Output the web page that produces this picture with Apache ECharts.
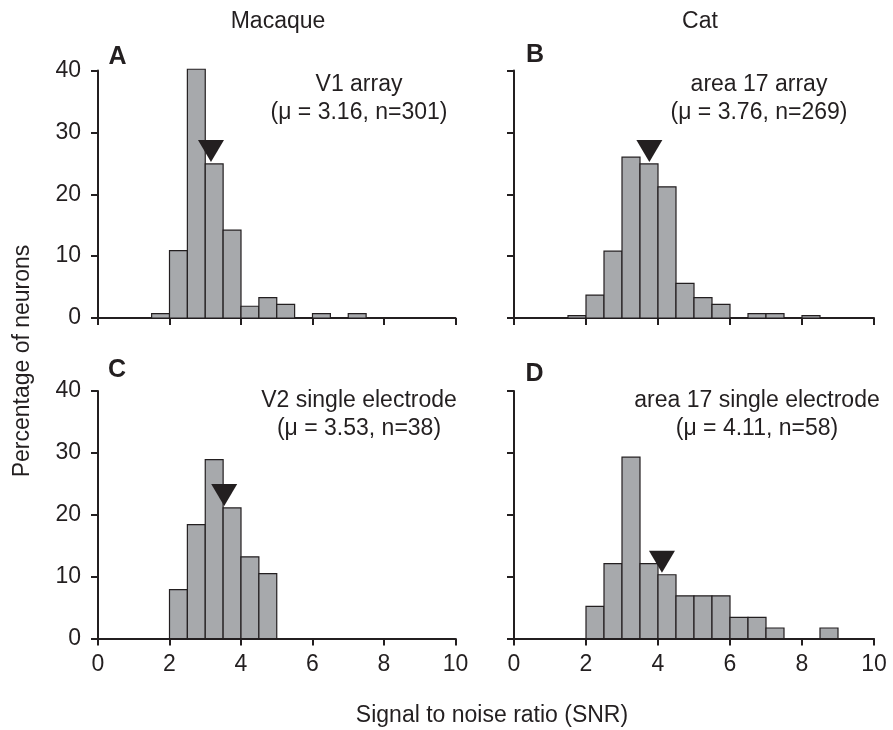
<!DOCTYPE html>
<html>
<head>
<meta charset="utf-8">
<script src="https://cdn.jsdelivr.net/npm/echarts@6/dist/echarts.min.js"></script>
<style>
  html, body { margin: 0; padding: 0; background: #ffffff; }
  #chart { width: 893px; height: 730px; }
</style>
</head>
<body>
<div id="chart"></div>
<script>
// Histogram bins: lower edges of 0.5-wide SNR bins
const binLow = [1.5, 2.0, 2.5, 3.0, 3.5, 4.0, 4.5, 5.0, 5.5, 6.0, 6.5, 7.0, 7.5, 8.0, 8.5];
const binWidth = 0.5;

// Percentage of neurons in each bin
const pctV1Array      = [0.7, 10.9, 40.2, 24.9, 14.2, 1.9, 3.3, 2.2, 0, 0.7, 0, 0.7, 0, 0, 0];
const pctA17Array     = [0.4, 3.7, 10.8, 26.0, 24.9, 21.2, 5.6, 3.3, 2.2, 0, 0.7, 0.7, 0, 0.4, 0];
const pctV2Single     = [0, 7.9, 18.4, 28.9, 21.1, 13.2, 10.5, 0, 0, 0, 0, 0, 0, 0, 0];
const pctA17Single    = [0, 5.2, 12.1, 29.3, 12.1, 10.3, 6.9, 6.9, 6.9, 3.4, 3.4, 1.7, 0, 0, 1.7];

// Panel metadata
const panelLetters = ['A', 'B', 'C', 'D'];
const panelNames   = ['V1 array', 'area 17 array', 'V2 single electrode', 'area 17 single electrode'];
const meanSNR      = [3.16, 3.76, 3.53, 4.11];
const cellCounts   = [301, 269, 38, 58];
const speciesNames = ['Macaque', 'Cat'];

// Axis ticks
const xTicks = { min: 0, max: 10, interval: 2 };
const yTicks = { min: 0, max: 40, interval: 10 };

const ink = '#231f20';
const barFill = '#a7a9ac';
const font = '"Liberation Sans", Arial, Helvetica, sans-serif';
const fs = 23;

const panelPct = [pctV1Array, pctA17Array, pctV2Single, pctA17Single];

const grids = [
  { left: 98,  top: 70.5, width: 357.5, height: 247.5 },
  { left: 514, top: 70.5, width: 360,   height: 247.5 },
  { left: 98,  top: 391,  width: 357.5, height: 247.5 },
  { left: 514, top: 391,  width: 360,   height: 247.5 }
];

function xAxisFor(i) {
  return {
    type: 'value', gridIndex: i,
    min: xTicks.min, max: xTicks.max, interval: xTicks.interval,
    axisLine: { show: true, onZero: false, lineStyle: { color: ink, width: 2 } },
    axisTick: { show: true, inside: false, length: 7, lineStyle: { color: ink, width: 2 } },
    axisLabel: { show: i >= 2, color: ink, fontSize: fs, fontFamily: font, margin: 15 },
    splitLine: { show: false }
  };
}
function yAxisFor(i) {
  return {
    type: 'value', gridIndex: i,
    min: yTicks.min, max: yTicks.max, interval: yTicks.interval,
    axisLine: { show: true, lineStyle: { color: ink, width: 2 } },
    axisTick: { show: true, inside: false, length: 7, lineStyle: { color: ink, width: 2 } },
    axisLabel: { show: i % 2 === 0, color: ink, fontSize: fs, fontFamily: font, margin: 17 },
    splitLine: { show: false }
  };
}

function barSeries(i) {
  const data = binLow.map((lo, k) => [lo, lo + binWidth, panelPct[i][k]]);
  return {
    type: 'custom', xAxisIndex: i, yAxisIndex: i, z: 3,
    encode: { x: [0, 1], y: 2 },
    data: data,
    renderItem: function (params, api) {
      const h = api.value(2);
      if (!h) return null;
      const p0 = api.coord([api.value(0), 0]);
      const p1 = api.coord([api.value(1), h]);
      return {
        type: 'rect',
        shape: { x: p0[0], y: p1[1], width: p1[0] - p0[0], height: p0[1] - p1[1] },
        style: { fill: barFill, stroke: ink, lineWidth: 1.2 }
      };
    }
  };
}

// Mean marker sits on top of the bin that contains the mean
function meanSeries(i) {
  const m = meanSNR[i];
  const k = binLow.findIndex(lo => m >= lo && m < lo + binWidth);
  return {
    type: 'scatter', xAxisIndex: i, yAxisIndex: i, z: 5,
    symbol: 'path://M0,0L26,0L13,22Z',
    symbolSize: [26, 22],
    symbolOffset: [0, -13],
    itemStyle: { color: ink, opacity: 1 },
    emphasis: { disabled: true },
    data: [[m, panelPct[i][k]]],
    silent: true
  };
}

const textStyle = (extra) => Object.assign({ fill: ink, font: fs + 'px ' + font }, extra);

const graphics = [];
// Column headings
graphics.push({ type: 'text', x: 278, y: 22, style: textStyle({ text: speciesNames[0], textAlign: 'center', textVerticalAlign: 'middle' }) });
graphics.push({ type: 'text', x: 700, y: 22, style: textStyle({ text: speciesNames[1], textAlign: 'center', textVerticalAlign: 'middle' }) });

// Panel letters and annotations
const letterPos = [[117.5, 57], [535, 55], [117, 370], [534.5, 374]];
const annotX = [359, 759, 359, 757];
const annotY = [85, 85, 401, 401];
for (let i = 0; i < 4; i++) {
  graphics.push({ type: 'text', x: letterPos[i][0], y: letterPos[i][1],
    style: textStyle({ text: panelLetters[i], textAlign: 'center', textVerticalAlign: 'middle', font: 'bold 25px ' + font }) });
  graphics.push({ type: 'text', x: annotX[i], y: annotY[i],
    style: textStyle({ text: panelNames[i], textAlign: 'center', textVerticalAlign: 'middle' }) });
  graphics.push({ type: 'text', x: annotX[i], y: annotY[i] + 28,
    style: textStyle({ text: '(\u03bc = ' + meanSNR[i].toFixed(2) + ', n=' + cellCounts[i] + ')', textAlign: 'center', textVerticalAlign: 'middle' }) });
}

// Shared axis titles
graphics.push({ type: 'text', x: 492, y: 716, style: textStyle({ text: 'Signal to noise ratio (SNR)', textAlign: 'center', textVerticalAlign: 'middle' }) });
graphics.push({ type: 'text', x: 23, y: 361, rotation: Math.PI / 2,
  style: textStyle({ text: 'Percentage of neurons', textAlign: 'center', textVerticalAlign: 'middle' }) });

const chart = echarts.init(document.getElementById('chart'), null, { renderer: 'canvas' });
chart.setOption({
  animation: false,
  backgroundColor: '#ffffff',
  grid: grids,
  xAxis: [0, 1, 2, 3].map(xAxisFor),
  yAxis: [0, 1, 2, 3].map(yAxisFor),
  series: [0, 1, 2, 3].map(barSeries).concat([0, 1, 2, 3].map(meanSeries)),
  graphic: graphics
});
</script>
</body>
</html>
